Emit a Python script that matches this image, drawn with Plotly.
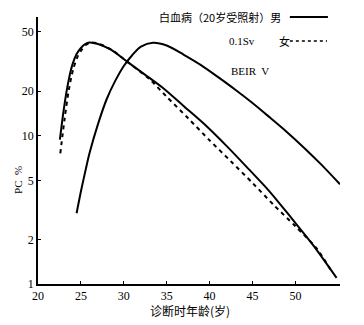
import plotly.graph_objects as go

# Early curve, solid (男)
male_x = [22.55, 23.0, 23.5, 24.0, 24.5, 25.0, 25.5, 26.0, 27.0, 28.5, 30.5, 32.5, 34.5, 37.0, 39.5, 42.0, 44.5, 47.0, 49.5, 52.0, 54.8]
male_y = [9.4, 15, 22.5, 30, 35.5, 39, 41.5, 42.5, 41.5, 38, 31.2, 25.7, 21.1, 15.8, 11.8, 8.5, 6.0, 4.2, 2.8, 1.85, 1.1]

# Early curve, dashed (女)
female_x = [22.6, 23.1, 23.6, 24.1, 24.6, 25.1, 25.6, 26.2, 27.0, 28.5, 30.5, 33.0, 35.0, 37.5, 40.0, 42.5, 45.0, 47.5, 50.0, 52.5, 54.2]
female_y = [7.6, 13, 20.5, 28, 34, 38, 41, 42.5, 41.8, 38.2, 31.2, 24, 18.3, 13.1, 9.3, 6.7, 4.8, 3.4, 2.45, 1.73, 1.22]

# Late curve, solid
late_x = [24.5, 25.0, 25.5, 26.0, 27.0, 28.0, 29.0, 30.0, 31.0, 32.0, 33.4, 35.0, 37.0, 39.0, 41.0, 43.0, 45.0, 47.0, 49.0, 51.0, 53.0, 55.2]
late_y = [3.0, 4.2, 5.7, 7.6, 12, 17.6, 23.4, 29.5, 35, 39.8, 42.3, 40.5, 35.1, 29.9, 24.8, 20.4, 16.6, 13.3, 10.6, 8.3, 6.4, 4.7]

x_ticks = [20, 25, 30, 35, 40, 45, 50]
y_ticks = [1, 2, 5, 10, 20, 50]

legend_line1 = "白血病（20岁受照射）男"
legend_line2a = "0.1Sv"
legend_line2b = "女"
label_model = "BEIR  V"
x_title = "诊断时年龄(岁)"
y_title = "PC  %"

SERIF = "Liberation Serif, DejaVu Serif, serif"
CJK = "Noto Sans CJK SC, Liberation Serif, serif"

fig = go.Figure()
fig.add_trace(go.Scatter(x=male_x, y=male_y, mode="lines",
                         line=dict(color="black", width=2, shape="spline", smoothing=0.8),
                         showlegend=False))
fig.add_trace(go.Scatter(x=female_x, y=female_y, mode="lines",
                         line=dict(color="black", width=2, dash="4px,4px", shape="spline", smoothing=0.8),
                         showlegend=False))
fig.add_trace(go.Scatter(x=late_x, y=late_y, mode="lines",
                         line=dict(color="black", width=2, shape="spline", smoothing=0.8),
                         showlegend=False))

# page body has an 8px default margin; figure is sized/offset to compensate
fig.update_layout(
    width=356, height=317,
    margin=dict(l=30, r=24, t=9, b=41),
    paper_bgcolor="white", plot_bgcolor="white",
    font=dict(family=SERIF, size=12, color="black"),
    xaxis=dict(range=[20, 55.2], tickvals=x_ticks, ticktext=[str(v) for v in x_ticks],
               showline=True, linecolor="black", linewidth=1.5, ticks="inside", ticklen=3,
               tickcolor="black", showgrid=False, zeroline=False),
    yaxis=dict(type="log", range=[0, 1.8], tickvals=y_ticks, ticktext=[str(v) for v in y_ticks],
               showline=True, linecolor="black", linewidth=1.5, ticks="inside", ticklen=3,
               tickcolor="black", showgrid=False, zeroline=False),
    annotations=[
        dict(xref="paper", yref="paper", x=0.811, y=1.0, text=legend_line1, showarrow=False,
             xanchor="right", yanchor="middle", font=dict(family=CJK, size=11)),
        dict(xref="paper", yref="paper", x=0.626, y=0.91, text=legend_line2a, showarrow=False,
             xanchor="left", yanchor="middle", font=dict(family=SERIF, size=11)),
        dict(xref="paper", yref="paper", x=0.815, y=0.91, text=legend_line2b, showarrow=False,
             xanchor="center", yanchor="middle", font=dict(family=CJK, size=11)),
        dict(xref="paper", yref="paper", x=0.702, y=0.798, text=label_model, showarrow=False,
             xanchor="center", yanchor="middle", font=dict(family=SERIF, size=11)),
        dict(xref="paper", yref="paper", x=0.503, y=-0.101, text=x_title, showarrow=False,
             xanchor="center", yanchor="middle", font=dict(family=CJK, size=12)),
        dict(xref="paper", yref="paper", x=-0.066, y=0.39, text=y_title, showarrow=False,
             textangle=-90, xanchor="center", yanchor="middle", font=dict(family=SERIF, size=11)),
    ],
    shapes=[
        dict(type="line", xref="paper", yref="paper", x0=0.834, x1=0.960, y0=1.0, y1=1.0,
             line=dict(color="black", width=2)),
        dict(type="line", xref="paper", yref="paper", x0=0.834, x1=0.957, y0=0.91, y1=0.91,
             line=dict(color="black", width=1.5, dash="3px,3px")),
    ],
)

fig.write_html("out.html")
